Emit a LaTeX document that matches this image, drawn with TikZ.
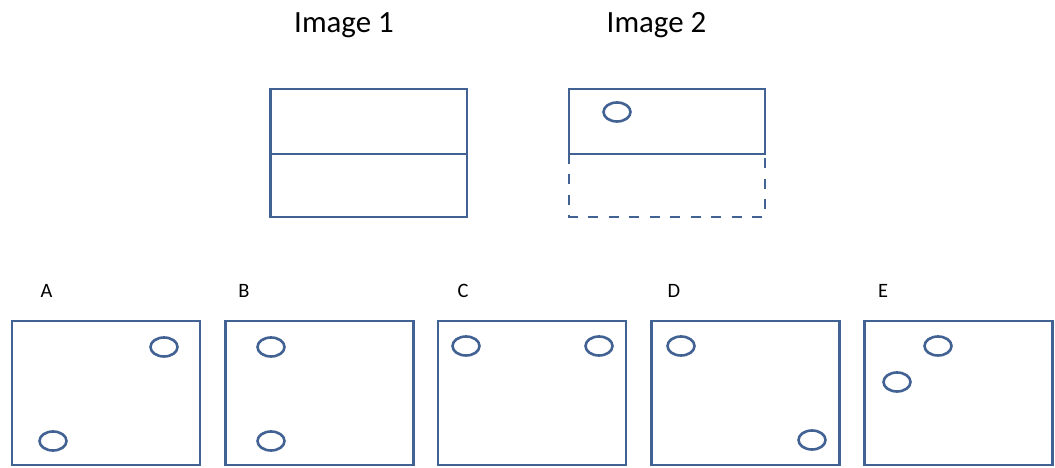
\documentclass[tikz,border=0pt]{standalone}
\usepackage{fontspec}
\setmainfont{Carlito}
\usepackage{tikz}
\usetikzlibrary{positioning}

\definecolor{frameblue}{RGB}{66,98,148}

\tikzset{
  frame/.style={draw=frameblue,line width=2.6bp},
  panel/.style={frame,rectangle,minimum width=188bp,minimum height=144bp,inner sep=0pt},
  hole/.style={frame,x radius=13.5bp,y radius=9.5bp},
  title/.style={anchor=base,inner sep=0pt,font=\fontsize{31}{36}\selectfont},
  choice/.style={anchor=base,inner sep=0pt,font=\fontsize{20.5}{24}\selectfont}
}

\begin{document}
\begin{tikzpicture}[x=1bp,y=-1bp]
  \useasboundingbox (0,0) rectangle (1055,468);

  \draw (344,33) node[title] (title1) {Image 1};
  \draw (656.5,33) node[title] (title2) {Image 2};

  % folded sheet, front and back
  \draw[frame] (270.5,89) rectangle (467,217);
  \draw[frame] (270.5,154) -- (467,154);

  \draw[frame] (569,89) rectangle (765,154);
  \draw[frame,dash pattern=on 10bp off 10.5bp] (569,154) -- (569,217) -- (765,217) -- (765,154);
  \draw[hole] (617,112) ellipse [];

  % answer panels
  \draw (46.5,298) node[choice] (labA) {A};
  \draw (244,298) node[choice] (labB) {B};
  \draw (463,298) node[choice] (labC) {C};
  \draw (674,298) node[choice] (labD) {D};
  \draw (883,298) node[choice] (labE) {E};

  \node[panel] (boxA) at (106,393) {};
  \node[panel] (boxB) at (319.5,393) {};
  \node[panel] (boxC) at (532,393) {};
  \node[panel] (boxD) at (745.5,393) {};
  \node[panel] (boxE) at (958.5,393) {};

  \draw[hole] (164,347) ellipse [];
  \draw[hole] (53,441) ellipse [];
  \draw[hole] (271,347) ellipse [];
  \draw[hole] (271,441) ellipse [];
  \draw[hole] (466,346) ellipse [];
  \draw[hole] (599,346) ellipse [];
  \draw[hole] (681,346) ellipse [];
  \draw[hole] (812,440) ellipse [];
  \draw[hole] (938,346) ellipse [];
  \draw[hole] (897,382) ellipse [];

\end{tikzpicture}
\end{document}
